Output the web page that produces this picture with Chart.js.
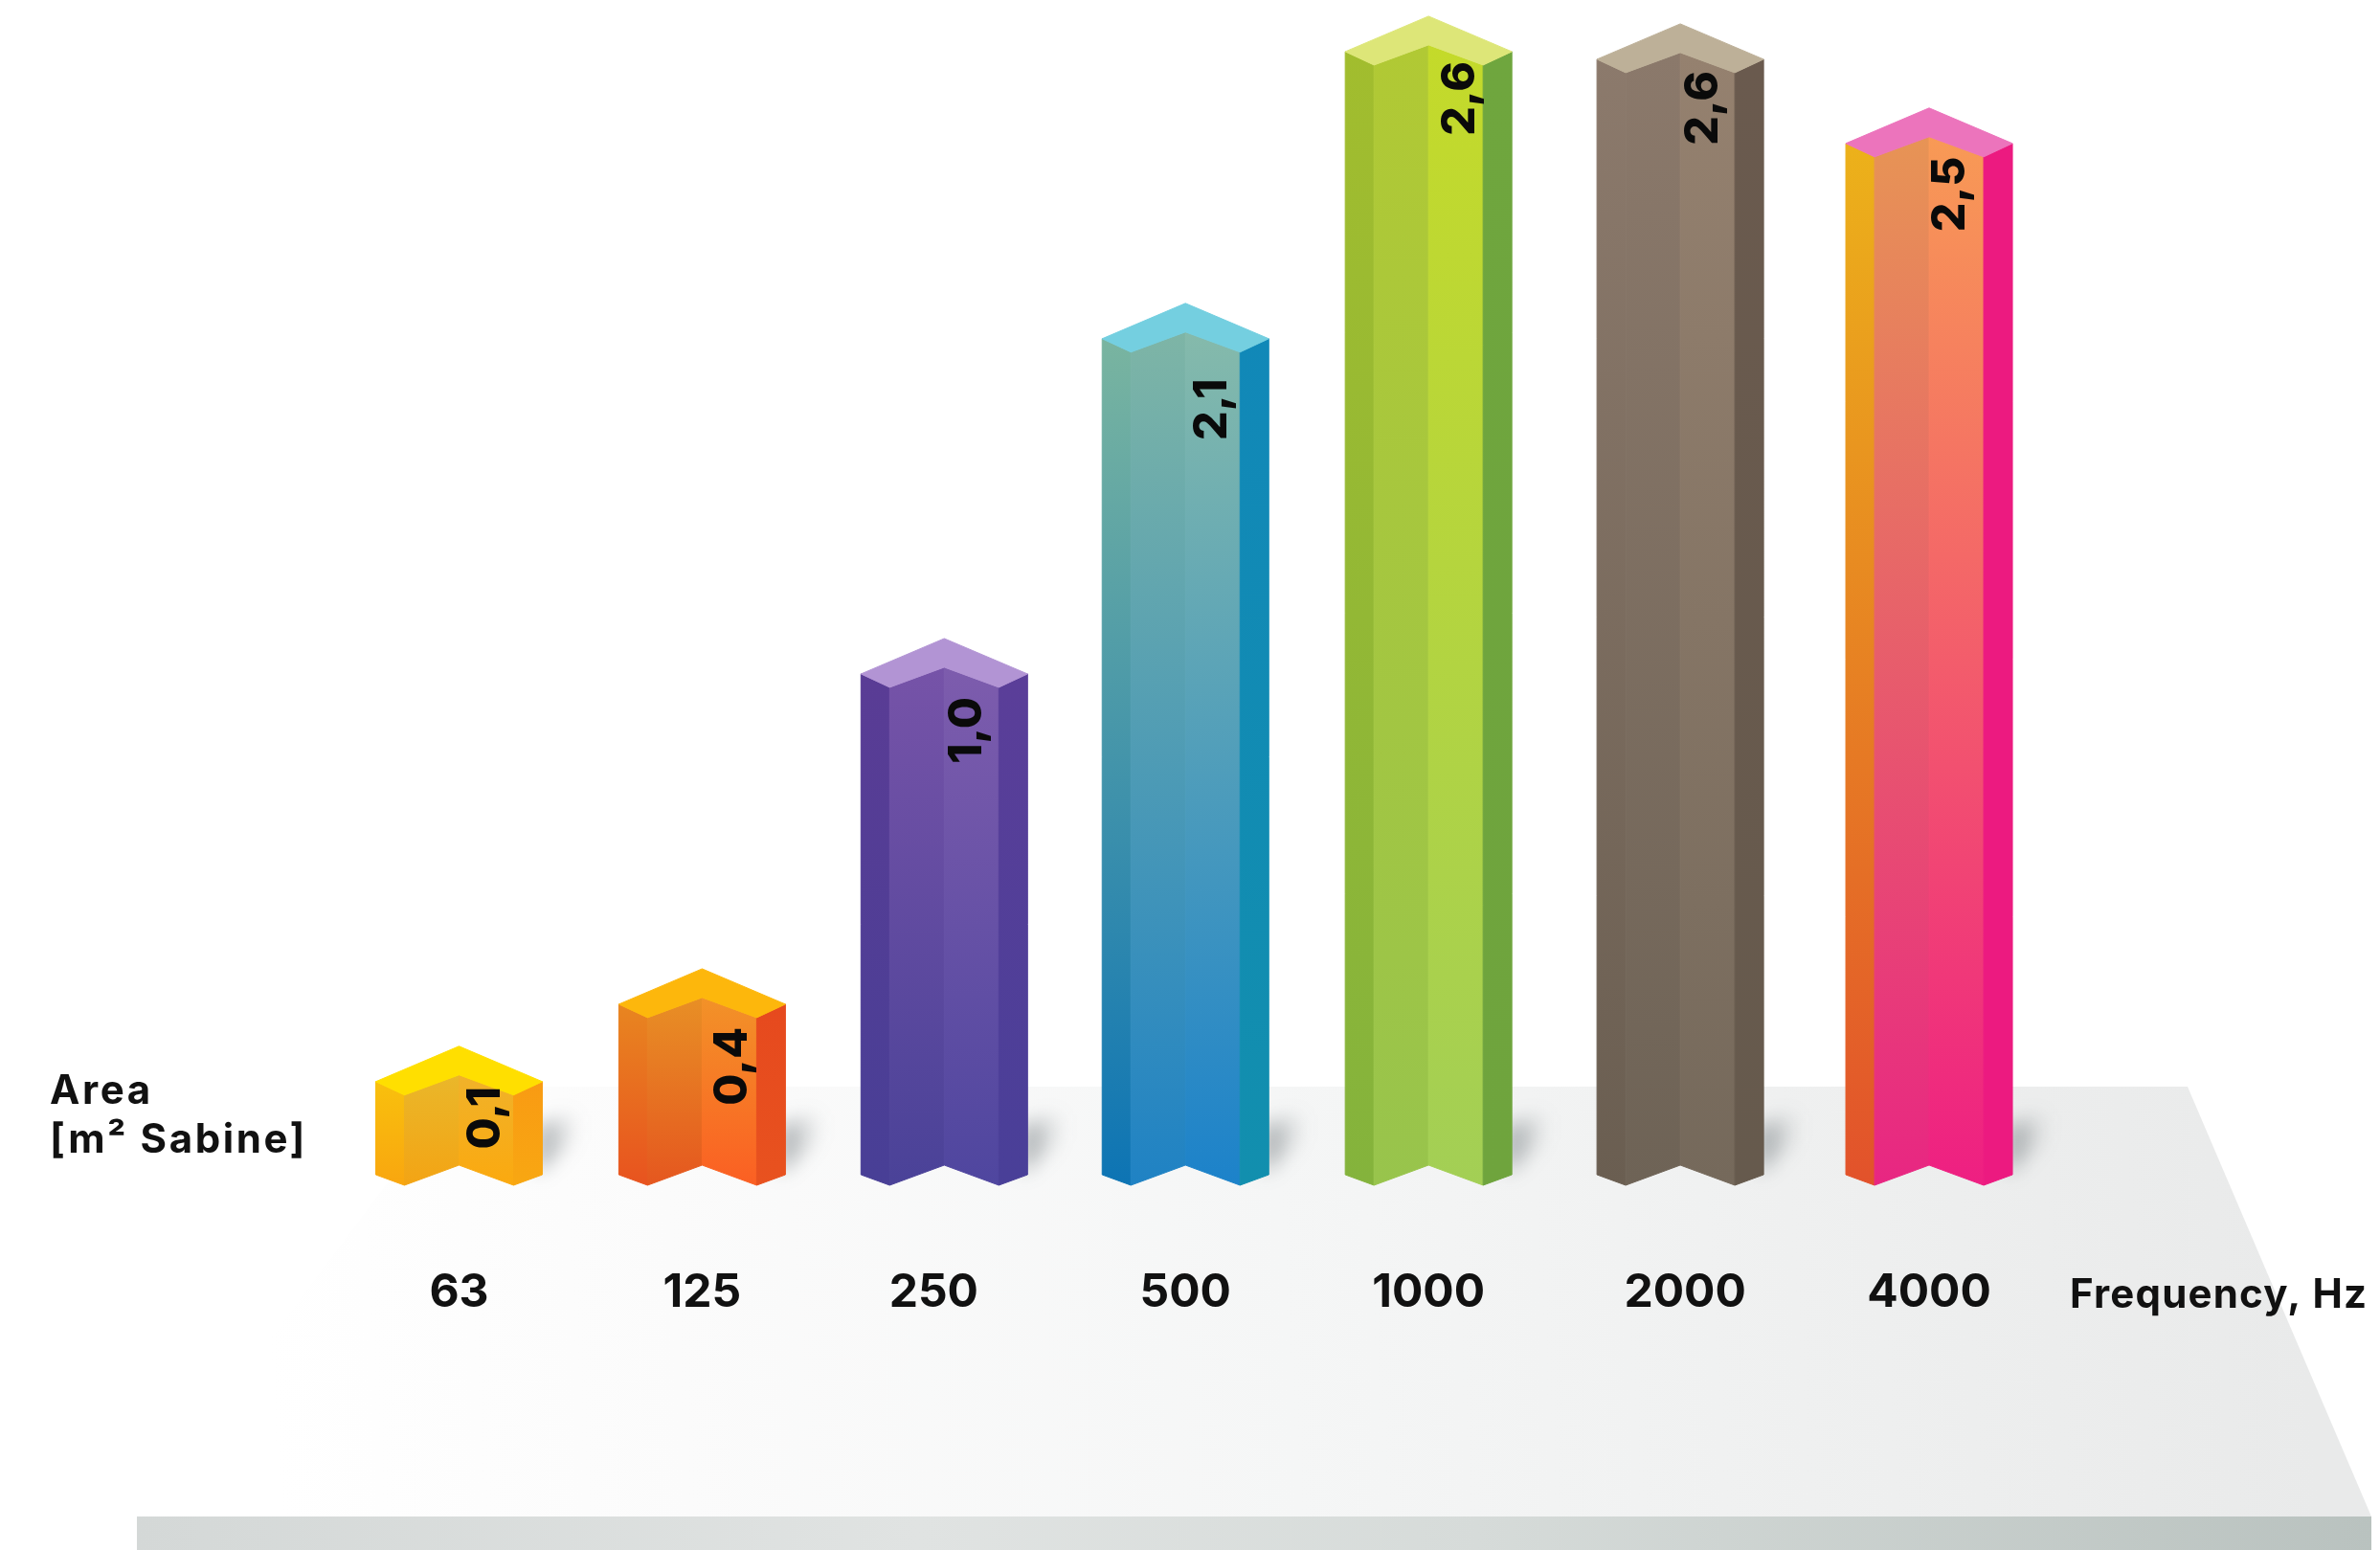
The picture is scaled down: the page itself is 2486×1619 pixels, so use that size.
<!DOCTYPE html>
<html>
<head>
<meta charset="utf-8">
<title>Area by frequency</title>
<style>
  html, body { margin: 0; padding: 0; background: #fff; }
  canvas { display: block; }
</style>
<script src="https://cdn.jsdelivr.net/npm/chart.js@4/dist/chart.umd.min.js"></script>
</head>
<body>
<canvas id="chart" width="2486" height="1619"></canvas>
<script>
// Chart values
const frequencies = ['63', '125', '250', '500', '1000', '2000', '4000'];
const areaLabels = ['0,1', '0,4', '1,0', '2,1', '2,6', '2,6', '2,5'];
// The picture is not drawn to scale, so the column heights are read off separately
const columnHeights = [0.309, 0.481, 1.215, 1.96, 2.598, 2.581, 2.394];
const heightAxisMax = 2.634;

// Layout tweaks: the original columns are hand placed, not evenly spaced
const columnShift = [0, -2, -5, -9, -11, -4, 0];
const tickShift = [0, 0, -11, 0, 0, 5, 0];
const labelOffsetX = [28, 32, 24, 28, 33, 24, 23];
const labelOffsetY = [75, 102, 96, 111, 86, 88, 90];

// [top, bottom] per face: left sliver, inner left, inner right, right sliver
const capColors = ['#ffdf00', '#fdb70c', '#b294d4', '#74cfe0', '#dde678', '#bdb098', '#ec74bc'];
const faceColors = [
    [['#f9c20d', '#f9a60f'], ['#eab72a', '#f3a414'], ['#f0b22a', '#fba90f'], ['#f99a13', '#f8a712']],
    [['#e88720', '#e8531f'], ['#e88f25', '#e5571f'], ['#f29228', '#fb5f23'], ['#e6491e', '#e8521f']],
    [['#5a3c95', '#483f96'], ['#7653a8', '#4a4298'], ['#7d5cad', '#4f469f'], ['#5b3e99', '#493f98']],
    [['#7ab5a0', '#0d74b4'], ['#7eb5a6', '#1f82c4'], ['#85baab', '#1c82ca'], ['#1188b8', '#128fae']],
    [['#a2bd2e', '#84b33c'], ['#b1c934', '#98c44c'], ['#c4da2a', '#a3cf55'], ['#6fa63e', '#6fa43d']],
    [['#8c7a6c', '#6a5e51'], ['#8b796b', '#6e6356'], ['#95816f', '#75695b'], ['#6a5a4e', '#665a4d']],
    [['#ecb21a', '#e2522b'], ['#e79455', '#e82682'], ['#f89a55', '#ee1f82'], ['#ec1a80', '#ec1a80']]
];

const FONT = 'Inter, "Liberation Sans", sans-serif';
const INK = '#111111';

class ShiftedCategoryScale extends Chart.CategoryScale {
    getPixelForValue(value) {
        const index = typeof value === 'number' ? value : this.parse(value);
        return super.getPixelForValue(index) + (columnShift[index] || 0);
    }
    getPixelForTick(index) {
        return super.getPixelForTick(index) + tickShift[index];
    }
}
ShiftedCategoryScale.id = 'shiftedCategory';
ShiftedCategoryScale.defaults = Chart.CategoryScale.defaults;
Chart.register(ShiftedCategoryScale);

function fillPolygon(ctx, points, fill, seal) {
    ctx.beginPath();
    points.forEach(([x, y], i) => (i ? ctx.lineTo(x, y) : ctx.moveTo(x, y)));
    ctx.closePath();
    ctx.fillStyle = fill;
    ctx.fill();
    // Thin stroke in the same colour hides the seam between neighbouring faces
    if (seal) {
        ctx.strokeStyle = fill;
        ctx.lineWidth = 1;
        ctx.stroke();
    }
}

function drawFloor(ctx, base) {
    const top = base - 103;
    const edge = base + 346;
    const bottom = 1619;

    const surface = ctx.createLinearGradient(280, 1400, 2400, 1250);
    surface.addColorStop(0, '#ffffff');
    surface.addColorStop(0.2, '#fbfbfb');
    surface.addColorStop(0.5, '#f5f6f6');
    surface.addColorStop(1, '#e9eaea');
    fillPolygon(ctx, [[480, top], [2285, top], [2477, edge], [143, edge]], surface);

    const front = ctx.createLinearGradient(143, 0, 2477, 0);
    front.addColorStop(0, '#d4d8d7');
    front.addColorStop(0.35, '#e0e3e2');
    front.addColorStop(0.6, '#d6dbd9');
    front.addColorStop(1, '#b9c2bf');
    fillPolygon(ctx, [[143, edge], [2477, edge], [2477, bottom], [143, bottom]], front);
}

function drawShadow(ctx, cx, halfWidth, base) {
    ctx.save();
    ctx.filter = 'blur(10px)';
    const right = cx + halfWidth;
    const shade = ctx.createLinearGradient(right - 5, 0, right + 36, 0);
    shade.addColorStop(0, 'rgba(70,80,85,0.5)');
    shade.addColorStop(1, 'rgba(70,80,85,0)');
    fillPolygon(ctx, [[right - 6, base - 12], [right - 6, base - 62], [right + 36, base - 76], [right + 34, base - 48]], shade);
    ctx.restore();
}

function drawColumn(ctx, index, cx, halfWidth, top, base) {
    const fold = halfWidth - 30;
    const colors = faceColors[index];
    const faces = [
        [[cx - halfWidth, top + 37], [cx - fold, top + 51], [cx - fold, base], [cx - halfWidth, base - 11]],
        [[cx - fold, top + 51], [cx, top + 30], [cx, base - 21], [cx - fold, base]],
        [[cx, top + 30], [cx + fold, top + 51], [cx + fold, base], [cx, base - 21]],
        [[cx + fold, top + 51], [cx + halfWidth, top + 37], [cx + halfWidth, base - 11], [cx + fold, base]]
    ];
    faces.forEach((points, f) => {
        const fill = ctx.createLinearGradient(0, top + 30, 0, base);
        fill.addColorStop(0, colors[f][0]);
        fill.addColorStop(1, colors[f][1]);
        fillPolygon(ctx, points, fill, true);
    });
    fillPolygon(ctx, [
        [cx, top], [cx + halfWidth, top + 37], [cx + fold, top + 51], [cx, top + 30],
        [cx - fold, top + 51], [cx - halfWidth, top + 37]
    ], capColors[index], true);
}

const columnPlugin = {
    id: 'columns',
    // beforeDraw, because the axis labels are painted before the datasets
    beforeDraw(chart) {
        const ctx = chart.ctx;
        ctx.save();
        drawFloor(ctx, chart.chartArea.bottom);

        ctx.fillStyle = INK;
        ctx.textBaseline = 'alphabetic';
        ctx.textAlign = 'left';
        ctx.font = `700 42px ${FONT}`;
        ctx.letterSpacing = '2.6px';
        ctx.fillText('Area', 52, 1153);
        ctx.fillText('[m² Sabine]', 52, 1204);
        ctx.letterSpacing = '1.2px';
        ctx.fillText('Frequency, Hz', 2162, 1366);
        ctx.restore();
    },
    afterDatasetsDraw(chart) {
        const ctx = chart.ctx;
        const bars = chart.getDatasetMeta(0).data;
        ctx.save();
        bars.forEach(bar => drawShadow(ctx, bar.x, bar.width / 2, bar.base));
        bars.forEach((bar, i) => {
            drawColumn(ctx, i, bar.x, bar.width / 2, bar.y, bar.base);
            ctx.save();
            ctx.translate(bar.x + labelOffsetX[i], bar.y + labelOffsetY[i]);
            ctx.rotate(-Math.PI / 2);
            ctx.font = `800 48px ${FONT}`;
            ctx.fillStyle = '#0a0a0a';
            ctx.textAlign = 'center';
            ctx.textBaseline = 'middle';
            ctx.fillText(areaLabels[i], 0, 0);
            ctx.restore();
        });
        ctx.restore();
    }
};

new Chart(document.getElementById('chart'), {
    type: 'bar',
    data: {
        labels: frequencies,
        datasets: [{
            data: columnHeights,
            backgroundColor: 'rgba(0,0,0,0)',
            borderWidth: 0,
            barThickness: 174
        }]
    },
    options: {
        responsive: false,
        animation: false,
        layout: { padding: { left: 351.5, right: 343, top: 0, bottom: 0 } },
        plugins: { legend: { display: false }, tooltip: { enabled: false } },
        scales: {
            x: {
                type: 'shiftedCategory',
                grid: { display: false, drawTicks: false },
                border: { display: false },
                afterFit: scale => { scale.height = 381; },
                ticks: {
                    padding: 84,
                    autoSkip: false,
                    maxRotation: 0,
                    color: INK,
                    font: { family: FONT, size: 48, weight: '700' }
                }
            },
            y: { display: false, min: 0, max: heightAxisMax }
        }
    },
    plugins: [columnPlugin]
});
</script>
</body>
</html>
